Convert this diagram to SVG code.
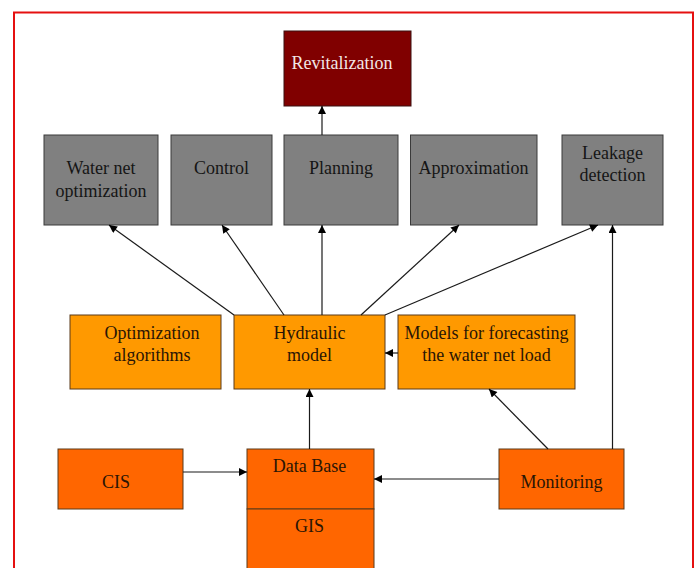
<svg xmlns="http://www.w3.org/2000/svg" width="699" height="568" viewBox="0 0 699 568">
<defs>
<marker id="ah" viewBox="0 0 10 10" refX="10" refY="5" markerWidth="9" markerHeight="8" markerUnits="userSpaceOnUse" orient="auto">
<path d="M0,0 L10,5 L0,10 z" fill="#000"/>
</marker>
<style>
text{font-family:"Liberation Serif","Times New Roman",serif;font-size:18px;text-anchor:middle}
.gray rect{fill:#808080;stroke:#3a3a3a;stroke-width:1}
.gray text{fill:#151515}
.org rect{fill:#ff9900;stroke:#5a3a1a;stroke-width:1}
.red rect{fill:#ff6600;stroke:#5a3a1a;stroke-width:1}
.org text,.red text{fill:#2a1505}
#connectors line{stroke:#1a1a1a;stroke-width:1.2;fill:none;marker-end:url(#ah)}
</style>
</defs>
<rect x="0" y="0" width="699" height="568" fill="#fff"/>
<rect x="14" y="12.5" width="679" height="570" fill="#fff" stroke="#e51010" stroke-width="2"/>

<g id="revitalization">
<rect x="284" y="31" width="127" height="75" fill="#800000" stroke="#3a1010" stroke-width="1"/>
<text x="342" y="69" fill="#f2e6e6">Revitalization</text>
</g>

<g id="water-net-optimization" class="gray">
<rect x="44" y="135" width="114" height="90"/>
<text x="101" y="174">Water net</text>
<text x="101" y="197">optimization</text>
</g>
<g id="control" class="gray">
<rect x="171" y="135" width="101" height="90"/>
<text x="221.5" y="174">Control</text>
</g>
<g id="planning" class="gray">
<rect x="284" y="135" width="114" height="90"/>
<text x="341" y="174">Planning</text>
</g>
<g id="approximation" class="gray">
<rect x="410.5" y="135" width="126.5" height="90"/>
<text x="473.5" y="174">Approximation</text>
</g>
<g id="leakage-detection" class="gray">
<rect x="562" y="135" width="101" height="90"/>
<text x="612.5" y="159">Leakage</text>
<text x="612.5" y="181">detection</text>
</g>

<g id="optimization-algorithms" class="org">
<rect x="70" y="315" width="151" height="74"/>
<text x="152" y="339">Optimization</text>
<text x="152" y="361">algorithms</text>
</g>
<g id="hydraulic-model" class="org">
<rect x="234" y="315" width="151" height="74"/>
<text x="309.5" y="339">Hydraulic</text>
<text x="309.5" y="361">model</text>
</g>
<g id="forecasting-models" class="org">
<rect x="398" y="315" width="177" height="74"/>
<text x="486.5" y="339">Models for forecasting</text>
<text x="486.5" y="361">the water net load</text>
</g>

<g id="cis" class="red">
<rect x="58" y="449" width="125" height="60"/>
<text x="116" y="488">CIS</text>
</g>
<g id="database-gis" class="red">
<rect x="247" y="449" width="127" height="60"/>
<rect x="247" y="509" width="127" height="70"/>
<text x="309.5" y="472">Data Base</text>
<text x="309.5" y="532">GIS</text>
</g>
<g id="monitoring" class="red">
<rect x="499" y="449" width="125" height="60"/>
<text x="561.5" y="488">Monitoring</text>
</g>

<g id="connectors">
<line x1="322" y1="135" x2="322" y2="106"/>
<line x1="234" y1="315" x2="109" y2="225"/>
<line x1="284" y1="315" x2="222" y2="225"/>
<line x1="322" y1="315" x2="322" y2="225"/>
<line x1="361" y1="315" x2="459" y2="225"/>
<line x1="385" y1="315" x2="598" y2="225"/>
<line x1="612.5" y1="449" x2="612.5" y2="225"/>
<line x1="548" y1="449" x2="489" y2="389"/>
<line x1="398" y1="353" x2="385" y2="353"/>
<line x1="309.5" y1="449" x2="309.5" y2="389"/>
<line x1="183" y1="472" x2="247" y2="472"/>
<line x1="499" y1="479" x2="374" y2="479"/>
</g>
</svg>
